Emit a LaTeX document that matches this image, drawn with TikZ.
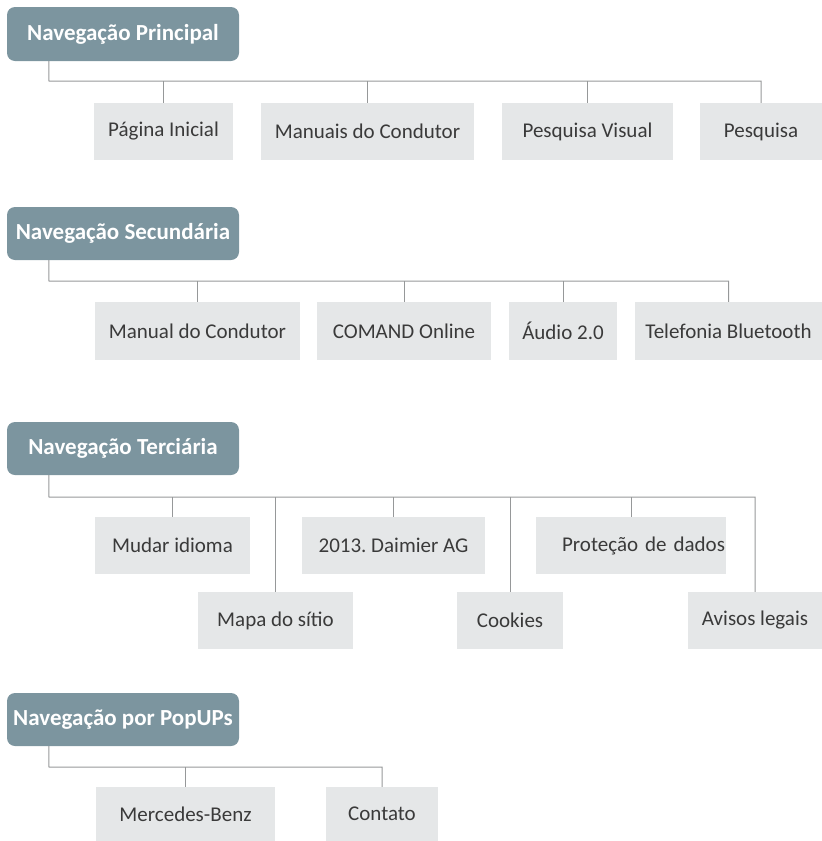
\documentclass[tikz,border=0pt]{standalone}
\usepackage{fontspec}
\setmainfont{Carlito}
\frenchspacing
\definecolor{headfill}{RGB}{124,149,159}
\definecolor{leaffill}{RGB}{229,231,232}
\definecolor{wirecol}{RGB}{150,152,153}
\definecolor{ink}{RGB}{58,58,58}
\begin{document}
\begin{tikzpicture}[x=1pt,y=-1pt,
  head/.style={fill=headfill, rounded corners=8pt, text=white,
    font=\fontsize{23}{26}\selectfont\bfseries, inner sep=0pt,
    minimum width=232pt, minimum height=53pt},
  leaf/.style={fill=leaffill, text=ink, font=\fontsize{21}{24}\selectfont,
    inner sep=0pt, minimum height=57pt},
  wire/.style={draw=wirecol, line width=1pt}]
\useasboundingbox (0,0) rectangle (822,841);

% --- Navegação Principal ---
\node[head, minimum height=54pt] (h1) at (123,34) {Navegação Principal};
\node[leaf, minimum width=139pt] (p1) at (163.5,131.5) {Página Inicial};
\node[leaf, minimum width=213pt] (p2) at (367.5,131.5) {Manuais do Condutor};
\node[leaf, minimum width=171pt] (p3) at (587.5,131.5) {Pesquisa Visual};
\node[leaf, minimum width=122pt] (p4) at (761,131.5) {Pesquisa};
\coordinate (bus1) at (49,81);
\draw[wire] ([xshift=42pt]h1.south west) -- (bus1) -| (p4.north);
\foreach \n in {p1,p2,p3} \draw[wire] (\n.north) -- (\n.north |- bus1);

% --- Navegação Secundária ---
\node[head] (h2) at (123,233.5) {Navegação Secundária};
\node[leaf, minimum width=205pt, minimum height=58pt] (s1) at (197.5,331) {Manual do Condutor};
\node[leaf, minimum width=174pt, minimum height=58pt] (s2) at (404,331) {COMAND Online};
\node[leaf, minimum width=108pt, minimum height=58pt] (s3) at (563,331) {Áudio 2.0};
\node[leaf, minimum width=187pt, minimum height=58pt] (s4) at (728.5,331) {Telefonia Bluetooth};
\coordinate (bus2) at (49,281);
\draw[wire] ([xshift=42pt]h2.south west) -- (bus2) -| (s4.north);
\foreach \n in {s1,s2,s3} \draw[wire] (\n.north) -- (\n.north |- bus2);

% --- Navegação Terciária ---
\node[head] (h3) at (123,448.5) {Navegação Terciária};
\node[leaf, minimum width=155pt] (t1) at (172.5,545.5) {Mudar idioma};
\node[leaf, minimum width=183pt] (t2) at (393.5,545.5) {2013. Daimier AG};
\node[leaf, text width=188pt, align=right, inner xsep=1pt] (t3) at (631,545.5) {Proteção de dados};
\node[leaf, minimum width=155pt] (t4) at (275.5,620.5) {Mapa do sítio};
\node[leaf, minimum width=106pt] (t5) at (510,620.5) {Cookies};
\node[leaf, minimum width=134pt] (t6) at (755,620.5) {Avisos legais};
\coordinate (bus3) at (49,497);
\draw[wire] ([xshift=42pt]h3.south west) -- (bus3) -| (t6.north);
\foreach \n in {t1,t2,t3,t4,t5} \draw[wire] (\n.north) -- (\n.north |- bus3);

% --- Navegação por PopUPs ---
\node[head] (h4) at (123,719.5) {Navegação por PopUPs};
\node[leaf, minimum width=179pt, minimum height=54pt] (u1) at (185.5,814) {Mercedes-Benz};
\node[leaf, minimum width=112pt, minimum height=54pt] (u2) at (382,814) {Contato};
\coordinate (bus4) at (49,767);
\draw[wire] ([xshift=42pt]h4.south west) -- (bus4) -| (u2.north);
\draw[wire] (u1.north) -- (u1.north |- bus4);
\end{tikzpicture}
\end{document}
